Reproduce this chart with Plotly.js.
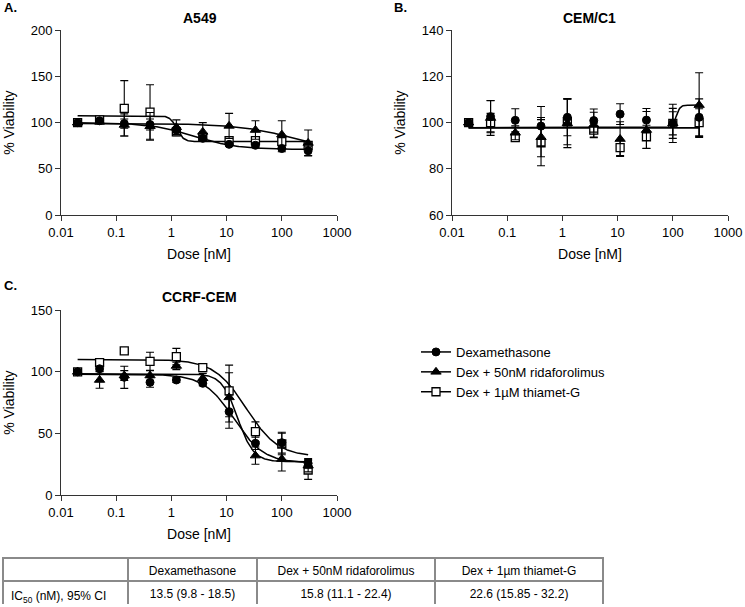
<!DOCTYPE html>
<html>
<head>
<meta charset="utf-8">
<script src="https://cdn.plot.ly/plotly-3.0.1.min.js"></script>
<style>html,body{margin:0;padding:0;background:#fff;}#chart{width:745px;height:607px;}</style>
</head>
<body>
<div id="chart"></div>
<script>
// ---------- DATA ----------
const doses = [0.02, 0.05, 0.14, 0.41, 1.23, 3.7, 11.1, 33.3, 100, 300];
const seriesNames = ["Dexamethasone", "Dex + 50nM ridaforolimus", "Dex + 1\u00b5M thiamet-G"];
const xTickVals = [0.01, 0.1, 1, 10, 100, 1000];
const xTickText = ["0.01", "0.1", "1", "10", "100", "1000"];

// Panel A: A549
const dexA     = [100, 102, 99, 98, 92, 83, 76.5, 75.5, 72, 69.5];
const dexAerr  = [1, 2, 5, 6, 3, 3, 2, 2, 3.5, 5];
const ridaA    = [100, 101, 97.5, 96, 95, 90, 96.5, 92, 87, 78];
const ridaAerr = [1, 2, 12, 15, 8, 10, 13.5, 10, 15, 14];
const thiaA    = [100, 103, 115.5, 111.5, 90, 84, 80.5, 80.5, 79.5, 75.5];
const thiaAerr = [1, 2, 30, 29.5, 4, 3, 3, 3, 3, 4];
// fitted curve params: [low-dose value, high-dose value, EC50, Hill]
const fitDexA  = [100, 71, 2.5, 1.1];
const fitRidaA = [99, 65, 200, 0.8];
const fitThiaA = [107.5, 79.5, 1.25, 7];

// Panel B: CEM/C1
const dexB     = [100, 102.6, 101, 98.5, 102.3, 100.9, 103.7, 101.1, 99.7, 102.3];
const dexBerr  = [0.5, 7, 5, 8.5, 8, 5, 4.5, 5, 8.3, 8];
const ridaB    = [100, 102, 95.6, 93.7, 99.7, 99, 92.9, 96.8, 99.7, 107.6];
const ridaBerr = [0.5, 7.5, 3, 8.5, 10.5, 5.5, 7.5, 8, 6.5, 14];
const thiaB    = [100, 100, 93.5, 91.3, 100.4, 96.8, 89.2, 93.9, 99.7, 100];
const thiaBerr = [0.5, 4, 1.5, 10, 10, 3, 3.5, 5, 5, 6];
const fitDexB  = [97.8, 97.8, 100, 1];
const fitRidaB = [97.8, 107.6, 115, 12];
const fitThiaB = [97.8, 97.8, 100, 1];

// Panel C: CCRF-CEM
const dexC     = [100, 102.5, 95.6, 91.5, 93.4, 90.7, 67.7, 42, 42.5, 25.7];
const dexCerr  = [1, 2, 9, 4, 2, 2, 13.5, 5, 8.5, 4];
const ridaC    = [100, 93.4, 97, 97, 104.8, 94.8, 79.3, 32, 29.2, 23.8];
const ridaCerr = [1, 6.7, 4, 4, 3, 4, 20, 7, 9.7, 5];
const thiaC    = [100, 107.5, 117, 108.6, 112.4, 103.4, 84.5, 51.4, 41.4, 20.3];
const thiaCerr = [1, 3.2, 1, 7.3, 6.7, 1.5, 21, 8, 8.7, 7.6];
const fitDexC  = [98, 26, 13.5, 1.6];
const fitRidaC = [98.5, 27, 15.8, 3];
const fitThiaC = [110, 31, 22.6, 1.5];

// IC50 table
const tableHeader = ["", "Dexamethasone", "Dex + 50nM ridaforolimus", "Dex + 1\u00b5m thiamet-G"];
const tableRow = ["IC<sub>50</sub> (nM), 95% CI", "13.5 (9.8 - 18.5)", "15.8 (11.1 - 22.4)", "22.6 (15.85 - 32.2)"];

// ---------- HELPERS ----------
const W = 745, H = 607;
const px = v => v / W;
const py = v => 1 - v / H;
const FONT = "Arial, Liberation Sans, Helvetica, sans-serif";

function curve(p, xa, ya) {
  const [lo, hi, ec, h] = p;
  const xs = [], ys = [];
  const a = Math.log10(doses[0]), b = Math.log10(doses[doses.length - 1]);
  const n = 300;
  for (let i = 0; i <= n; i++) {
    const x = Math.pow(10, a + (b - a) * i / n);
    xs.push(x);
    ys.push(lo + (hi - lo) / (1 + Math.pow(ec / x, h)));
  }
  return {x: xs, y: ys, xaxis: xa, yaxis: ya, mode: "lines", type: "scatter",
          line: {color: "#000", width: 1.5}, showlegend: false, hoverinfo: "skip"};
}

const markerStyles = [
  {symbol: "circle", size: 8, color: "#000", line: {color: "#000", width: 1}},
  {symbol: "triangle-up", size: 9, color: "#000", line: {color: "#000", width: 1}},
  {symbol: "square", size: 8, color: "#fff", line: {color: "#000", width: 1.3}}
];

function pts(y, err, idx, xa, ya) {
  return {x: doses, y: y, xaxis: xa, yaxis: ya, mode: "markers", type: "scatter",
          marker: markerStyles[idx],
          error_y: {type: "data", array: err, visible: true, color: "#000", thickness: 1.1, width: 4},
          showlegend: false, cliponaxis: false};
}

const traces = [];
const panels = [
  {xa: "x",  ya: "y",  d: [dexA, ridaA, thiaA], e: [dexAerr, ridaAerr, thiaAerr], f: [fitDexA, fitRidaA, fitThiaA]},
  {xa: "x2", ya: "y2", d: [dexB, ridaB, thiaB], e: [dexBerr, ridaBerr, thiaBerr], f: [fitDexB, fitRidaB, fitThiaB]},
  {xa: "x3", ya: "y3", d: [dexC, ridaC, thiaC], e: [dexCerr, ridaCerr, thiaCerr], f: [fitDexC, fitRidaC, fitThiaC]}
];
panels.forEach(p => {
  p.f.forEach(f => traces.push(curve(f, p.xa, p.ya)));
  [2, 1, 0].forEach(i => traces.push(pts(p.d[i], p.e[i], i, p.xa, p.ya)));
});
// legend entries
[0, 1, 2].forEach(i => traces.push({
  x: [null], y: [null], xaxis: "x3", yaxis: "y3", type: "scatter", mode: "lines+markers",
  name: seriesNames[i], marker: markerStyles[i], line: {color: "#000", width: 1.5}, showlegend: true
}));
// table
traces.push({
  type: "table",
  domain: {x: [px(3), px(603)], y: [py(605), py(558)]},
  columnwidth: [125, 129, 178, 168],
  header: {values: tableHeader, align: ["left", "center", "center", "center"],
           line: {color: "#8a8a8a", width: 1.5}, fill: {color: "#fff"},
           font: {family: FONT, size: 12, color: "#000"}, height: 23},
  cells: {values: tableRow.map(v => [v]), align: ["left", "center", "center", "center"],
          line: {color: "#8a8a8a", width: 1.5}, fill: {color: "#fff"},
          font: {family: FONT, size: 12, color: "#000"}, height: 22}
});

function xAxis(x0, x1, anchor) {
  return {type: "log", range: [-2, 3], domain: [px(x0), px(x1)], anchor: anchor,
          tickvals: xTickVals, ticktext: xTickText, ticks: "outside", ticklen: 5,
          tickcolor: "#333", showline: true, linecolor: "#333", linewidth: 1,
          showgrid: false, zeroline: false, tickfont: {family: FONT, size: 13, color: "#000"},
          title: {text: "Dose [nM]", font: {family: FONT, size: 14, color: "#000"}, standoff: 10}};
}
function yAxis(y0, y1, anchor, range, dtick) {
  return {range: range, dtick: dtick, domain: [py(y1), py(y0)], anchor: anchor,
          ticks: "outside", ticklen: 5, tickcolor: "#333", showline: true, linecolor: "#333",
          linewidth: 1, showgrid: false, zeroline: false,
          tickfont: {family: FONT, size: 13, color: "#000"},
          title: {text: "% Viability", font: {family: FONT, size: 14, color: "#000"}, standoff: 12}};
}

const ann = (text, x, y, size, bold, xanchor) => ({
  text: bold ? "<b>" + text + "</b>" : text, x: px(x), y: py(y), xref: "paper", yref: "paper",
  showarrow: false, xanchor: xanchor || "center", yanchor: "middle",
  font: {family: FONT, size: size, color: "#000"}
});

const layout = {
  width: W, height: H, autosize: false,
  margin: {l: 0, r: 0, t: 0, b: 0},
  paper_bgcolor: "#fff", plot_bgcolor: "#fff",
  font: {family: FONT, color: "#000"},
  xaxis: xAxis(61, 337, "y"),
  yaxis: yAxis(30.3, 215, "x", [0, 200], 50),
  xaxis2: xAxis(452, 728, "y2"),
  yaxis2: yAxis(30.3, 215, "x2", [60, 140], 20),
  xaxis3: xAxis(61, 337, "y3"),
  yaxis3: yAxis(310.3, 495, "x3", [0, 150], 50),
  legend: {x: px(416), y: py(337), xanchor: "left", yanchor: "top",
           font: {family: FONT, size: 13, color: "#000"}, bgcolor: "rgba(0,0,0,0)",
           itemwidth: 30, tracegroupgap: 0},
  annotations: [
    ann("A.", 2, 8, 13, true, "left"),
    ann("B.", 392, 8, 13, true, "left"),
    ann("C.", 2, 285, 13, true, "left"),
    ann("A549", 200, 18, 14, true),
    ann("CEM/C1", 589, 18, 14, true),
    ann("CCRF-CEM", 199, 297, 14, true)
  ]
};

Plotly.newPlot("chart", traces, layout, {staticPlot: true, displayModeBar: false});
</script>
</body>
</html>
